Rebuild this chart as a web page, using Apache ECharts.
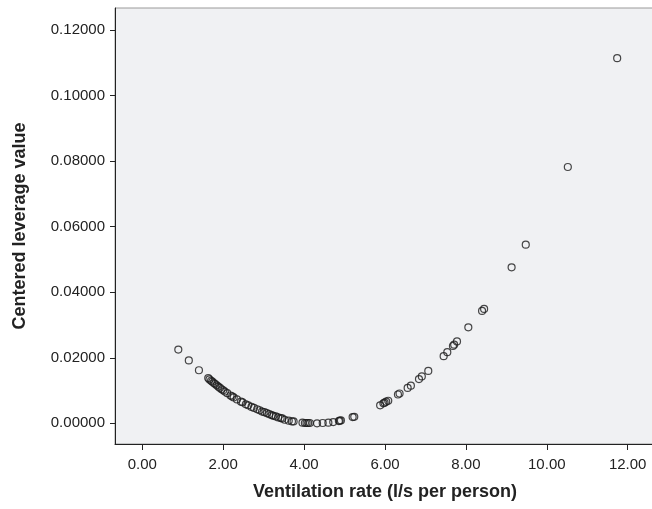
<!DOCTYPE html>
<html>
<head>
<meta charset="utf-8">
<script src="https://cdn.jsdelivr.net/npm/echarts@6/dist/echarts.min.js"></script>
<style>
    html, body { margin: 0; padding: 0; background: #fff; }
    #chart { width: 652px; height: 509px; }
</style>
</head>
<body>
<div id="chart"></div>
<script>
// ventilation rate (l/s per person)
const ventRate = [
    0.89, 1.15, 1.40,
    1.63, 1.66, 1.70, 1.73, 1.77, 1.80, 1.84, 1.88, 1.92, 1.96, 2.00, 2.04,
    2.10, 2.18, 2.22, 2.26, 2.34, 2.44, 2.48, 2.56, 2.62, 2.70, 2.76, 2.84,
    2.90, 2.96, 3.02, 3.08, 3.14, 3.20, 3.24, 3.30, 3.36, 3.42, 3.46, 3.52,
    3.62, 3.70, 3.74,
    3.96, 4.02, 4.06, 4.10, 4.14, 4.32, 4.46, 4.60, 4.72, 4.86, 4.88, 4.91,
    5.20, 5.24,
    5.88, 5.96, 5.99, 6.03, 6.08, 6.32, 6.36, 6.56, 6.64, 6.84, 6.91, 7.07,
    7.45, 7.54, 7.68, 7.71, 7.78, 8.06, 8.40, 8.45, 9.13, 9.48, 10.52, 11.74
]
// centered leverage value
const leverage = [
    0.0225, 0.0192, 0.0162,
    0.0138, 0.0134, 0.0130, 0.0127, 0.0123, 0.0120, 0.0116, 0.0112, 0.0108, 0.0104, 0.0101, 0.0097,
    0.0092, 0.0085, 0.0082, 0.0079, 0.0073, 0.0066, 0.0064, 0.0058, 0.0055, 0.0050, 0.0047, 0.0043,
    0.0040, 0.0036, 0.0034, 0.0031, 0.0028, 0.0025, 0.0023, 0.0021, 0.0018, 0.0016, 0.0015, 0.0011,
    0.0008, 0.0006, 0.0006,
    0.0002, 0.0001, 0.0001, 0.0001, 0.0001, 0.0000, 0.0001, 0.0002, 0.0004, 0.0007, 0.0008, 0.0009,
    0.0019, 0.0020,
    0.0055, 0.0061, 0.0063, 0.0066, 0.0069, 0.0088, 0.0091, 0.0108, 0.0115, 0.0135, 0.0143, 0.0160,
    0.0205, 0.0217, 0.0236, 0.0240, 0.0250, 0.0293, 0.0343, 0.0349, 0.0476, 0.0545, 0.0782, 0.1114
]
const xTicks = [0, 2, 4, 6, 8, 10, 12]
const yTicks = [0, 0.02, 0.04, 0.06, 0.08, 0.10, 0.12]

const points = ventRate.map((v, i) => [v, leverage[i]])
const FONT = 'Liberation Sans, Arial, sans-serif'
const TEXT_COLOR = '#222'

let myChart = echarts.init(document.getElementById('chart'))
myChart.setOption({
    animation: false,
    textStyle: { fontFamily: FONT },
    grid: {
        left: 115,
        top: 8,
        width: 540,
        bottom: 65,
        outerBoundsMode: 'none',
        containLabel: false,
        show: true,
        backgroundColor: '#f0f1f3',
        borderColor: '#9a9a9a',
        borderWidth: 1
    },
    xAxis: {
        type: 'value',
        min: -0.675,
        max: 12.675,
        name: 'Ventilation rate (l/s per person)',
        nameLocation: 'middle',
        nameGap: 39,
        nameTextStyle: { color: TEXT_COLOR, fontSize: 18, fontWeight: 'bold', fontFamily: FONT },
        axisLine: { onZero: false, lineStyle: { color: '#222', width: 1 } },
        axisTick: { show: true, length: 6, customValues: xTicks, lineStyle: { color: '#222' } },
        axisLabel: {
            customValues: xTicks,
            margin: 13,
            fontSize: 15,
            color: TEXT_COLOR,
            fontFamily: FONT,
            formatter: v => v.toFixed(2)
        },
        splitLine: { show: false }
    },
    yAxis: {
        type: 'value',
        min: -0.0063,
        max: 0.1267,
        name: 'Centered leverage value',
        nameLocation: 'middle',
        nameGap: 86,
        nameTextStyle: { color: TEXT_COLOR, fontSize: 18, fontWeight: 'bold', fontFamily: FONT },
        axisLine: { show: true, onZero: false, lineStyle: { color: '#222', width: 1 } },
        axisTick: { show: true, length: 5, customValues: yTicks, lineStyle: { color: '#222' } },
        axisLabel: {
            customValues: yTicks,
            margin: 10,
            fontSize: 15,
            color: TEXT_COLOR,
            fontFamily: FONT,
            formatter: v => v.toFixed(5)
        },
        splitLine: { show: false }
    },
    series: [{
        type: 'scatter',
        data: points,
        symbol: 'circle',
        symbolSize: 7,
        itemStyle: {
            color: 'rgba(0,0,0,0)',
            borderColor: '#1a1a1a',
            borderWidth: 1.2
        }
    }]
})
</script>
</body>
</html>
